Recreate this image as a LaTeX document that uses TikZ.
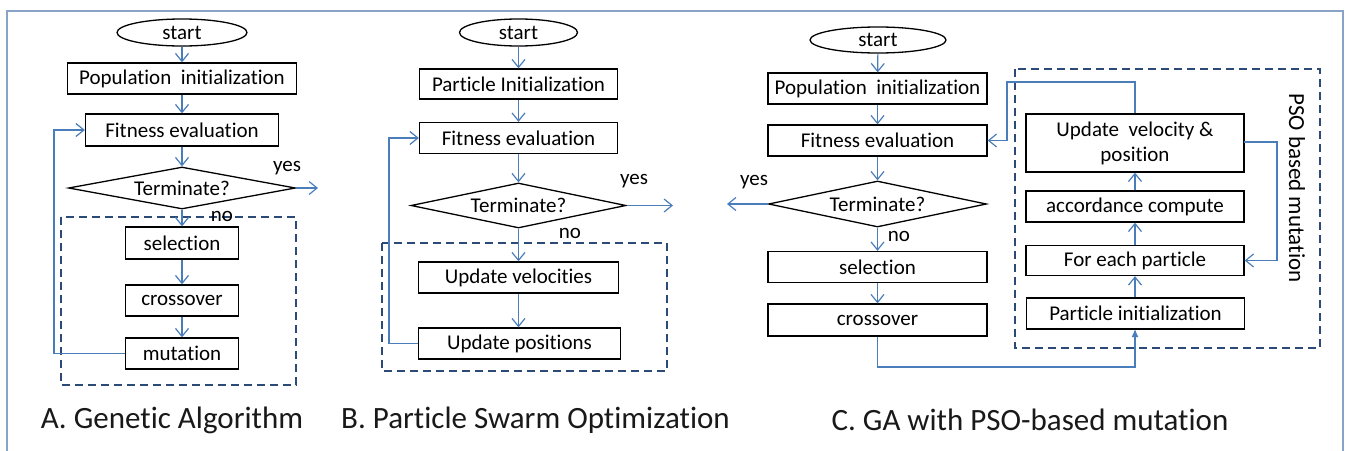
\documentclass[tikz,border=0pt]{standalone}
\usepackage{fontspec}
\setmainfont{Carlito}[Ligatures={NoCommon}]
\usetikzlibrary{shapes.geometric,arrows.meta}
\definecolor{linkblue}{HTML}{4A7EBB}
\definecolor{framegray}{HTML}{8AA4C8}
\definecolor{dashblue}{HTML}{2B4A78}
\newcommand\boxfont{\fontsize{21}{25}\selectfont}
\newcommand\titlefont{\fontsize{31}{36}\selectfont}
\tikzset{
  box/.style={draw=black, line width=1.3pt, inner sep=0pt, font=\boxfont, align=center},
  term/.style={box, ellipse},
  decide/.style={box, diamond, aspect=5},
  link/.style={draw=linkblue, line width=1.2pt, -{Straight Barb[length=8pt,width=13pt,line width=1.2pt]}},
  filledlink/.style={draw=linkblue, line width=1.2pt, -{Latex[length=8pt,width=7pt]}},
  group/.style={draw=dashblue, line width=1.8pt, dash pattern=on 8pt off 5pt},
  lbl/.style={font=\boxfont, inner sep=0pt},
  caption/.style={font=\titlefont, inner sep=0pt, text=black!90},
}
\begin{document}
\begin{tikzpicture}[x=1pt, y=-1pt]
\useasboundingbox (0,0) rectangle (1349,450);
\fill[white] (0,0) rectangle (1349,450);
\draw[framegray, line width=1.5pt] (7,455) -- (7,11) -- (1343,11) -- (1343,455);

% ---------- A. Genetic Algorithm ----------
\node[term, minimum width=130pt, minimum height=27pt] (a0) at (182,32.5) {start};
\node[box, minimum width=229pt, minimum height=31pt] (a1) at (182,78.5) {Population\ \ initialization};
\node[box, minimum width=193pt, minimum height=32pt] (a2) at (182,130) {Fitness evaluation};
\node[decide, minimum width=227pt, minimum height=42pt] (a3) at (182,188) {Terminate?};
\node[box, minimum width=113pt, minimum height=32pt] (a4) at (182,243) {selection};
\node[box, minimum width=113pt, minimum height=31pt] (a5) at (182,300.5) {crossover};
\node[box, minimum width=113pt, minimum height=31pt] (a6) at (182,353.5) {mutation};
\draw[group] (61,217) rectangle (296,385);
\coordinate (ayes) at (318,188);
\draw[link] (a0) -- (a1);
\draw[link] (a1) -- (a2);
\draw[link] (a2) -- (a3);
\draw[link] (a3) -- (a4);
\draw[link] (a4) -- (a5);
\draw[link] (a5) -- (a6);
\draw[link] (a3.east) -- (ayes);
\draw[link] (a6.west) -- (54,353.5) -- (54,130) -- (a2.west);
\node[lbl] (ayeslbl) at (287,168) {yes};
\node[lbl] (anolbl) at (222,216) {no};
\node[caption] (acap) at (172,420) {A. Genetic Algorithm};

% ---------- B. Particle Swarm Optimization ----------
\node[term, minimum width=118pt, minimum height=27pt] (b0) at (518.5,32.5) {start};
\node[box, minimum width=198pt, minimum height=30pt] (b1) at (518.5,84) {Particle Initialization};
\node[box, minimum width=198pt, minimum height=31pt] (b2) at (518.5,138) {Fitness evaluation};
\node[decide, minimum width=215pt, minimum height=45pt] (b3) at (518.5,205.5) {Terminate?};
\node[box, minimum width=200pt, minimum height=31pt] (b4) at (518.5,277.5) {Update velocities};
\node[box, minimum width=202pt, minimum height=31pt] (b5) at (519.5,343.5) {Update positions};
\draw[group] (382,243) rectangle (667,371);
\coordinate (byes) at (673,205.5);
\draw[link] (b0) -- (b1);
\draw[link] (b1) -- (b2);
\draw[link] (b2) -- (b3);
\draw[link] (b3) -- (b4);
\draw[link] (b4.south) -- (b4.south |- b5.north);
\draw[link] (b3.east) -- (byes);
\draw[link] (b5.west) -- (389,343.5) -- (389,138) -- (b2.west);
\node[lbl] (byeslbl) at (634,181) {yes};
\node[lbl] (bnolbl) at (570,233) {no};
\node[caption] (bcap) at (535.5,420) {B. Particle Swarm Optimization};

% ---------- C. GA with PSO-based mutation ----------
\node[term, minimum width=136pt, minimum height=26pt] (c0) at (878,40) {start};
\node[box, minimum width=219pt, minimum height=31pt] (c1) at (877.5,88.5) {Population\ \ initialization};
\node[box, minimum width=219pt, minimum height=31pt] (c2) at (877.5,140.5) {Fitness evaluation};
\node[decide, minimum width=218pt, minimum height=46pt] (c3) at (877.5,204) {Terminate?};
\node[box, minimum width=219pt, minimum height=31pt] (c4) at (877.5,267) {selection};
\node[box, minimum width=219pt, minimum height=32pt] (c5) at (877.5,320) {crossover};
\node[box, minimum width=218pt, minimum height=58pt] (p3) at (1135,143) {Update\ \ velocity \&\\position};
\node[box, minimum width=218pt, minimum height=31pt] (p2) at (1135,206.5) {accordance compute};
\node[box, minimum width=218pt, minimum height=30pt] (p1) at (1135,260.5) {For each particle};
\node[box, minimum width=218pt, minimum height=31pt] (p0) at (1135.5,313.5) {Particle initialization};
\draw[group] (1015,69) rectangle (1320,348);
\node[lbl, rotate=-90, font=\fontsize{23}{26}\selectfont] (psolbl) at (1297,188) {PSO based mutation};
\coordinate (cyes) at (727,204);
\draw[link] (c0) -- (c1);
\draw[link] (c1) -- (c2);
\draw[link] (c2) -- (c3);
\draw[link] (c3) -- (c4);
\draw[link] (c4) -- (c5);
\draw[link] (c3.west) -- (cyes);
\draw[filledlink] (c5.south) -- (877.5,367) -- (1135,367) -- (1135,329);
\draw[link] (p0.north -| p1.south) -- (p1.south);
\draw[link] (p1) -- (p2);
\draw[link] (p2) -- (p3);
\draw[link] (p3.north) -- (1135,82) -- (1007,82) -- (1007,140.5) -- (c2.east);
\draw[link] (1244,142) -- (1277,142) -- (1277,260.5) -- (p1.east);
\node[lbl] (cyeslbl) at (754,182) {yes};
\node[lbl] (cnolbl) at (899,236) {no};
\node[caption] (ccap) at (1030,420) {C. GA with PSO-based mutation};
\end{tikzpicture}
\end{document}
